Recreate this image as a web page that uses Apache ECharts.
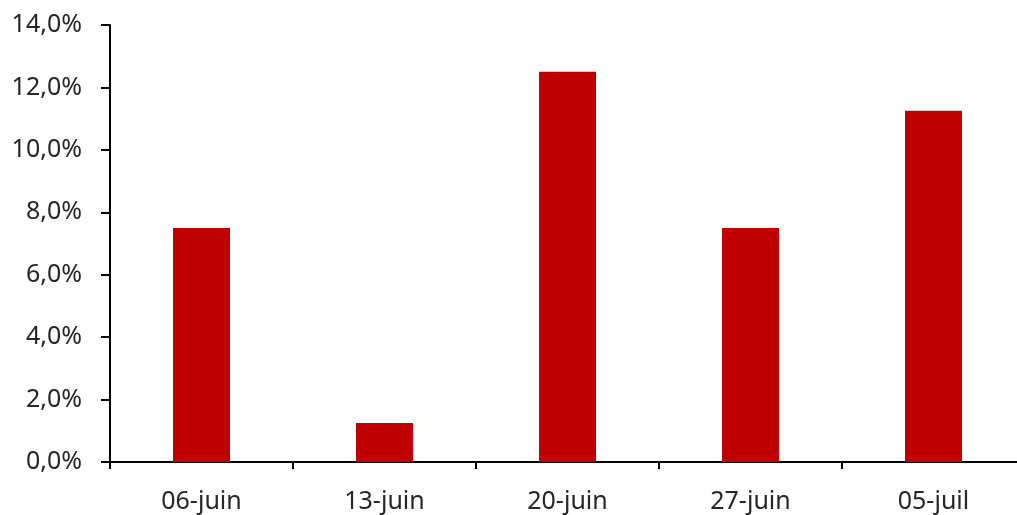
<!DOCTYPE html>
<html>
<head>
<meta charset="utf-8">
<script src="https://cdn.jsdelivr.net/npm/echarts@6/dist/echarts.min.js"></script>
<style>
  html, body { margin: 0; padding: 0; background: #fff; }
  #chart { width: 1017px; height: 515px; }
</style>
</head>
<body>
<div id="chart"></div>
<script>
var categories = ['06-juin', '13-juin', '20-juin', '27-juin', '05-juil'];
var values = [7.5, 1.25, 12.5, 7.5, 11.25];
var yTicks = { min: 0, max: 14, interval: 2 };

var chart = echarts.init(document.getElementById('chart'));

chart.setOption({
  animation: false,
  textStyle: { fontFamily: 'Noto Sans' },
  // right edge of the plot runs past the window, as in the cropped original
  grid: { left: 110, right: -8, top: 25, bottom: 53, containLabel: false, outerBoundsMode: 'none' },
  xAxis: {
    type: 'category',
    data: categories,
    boundaryGap: true,
    axisLine: { lineStyle: { color: '#000', width: 2 } },
    axisTick: { show: true, length: 7, lineStyle: { color: '#000', width: 2 } },
    axisLabel: { color: '#262626', fontSize: 25, margin: 27, fontFamily: 'Noto Sans' }
  },
  yAxis: {
    type: 'value',
    min: yTicks.min,
    max: yTicks.max,
    interval: yTicks.interval,
    splitLine: { show: false },
    axisLine: { show: true, lineStyle: { color: '#000', width: 2 } },
    axisTick: { show: true, length: 9, lineStyle: { color: '#000', width: 2 } },
    axisLabel: {
      color: '#262626',
      fontSize: 25,
      margin: 28,
      fontFamily: 'Noto Sans',
      formatter: function (v) { return v.toFixed(1).replace('.', ',') + '%'; }
    }
  },
  series: [{
    type: 'bar',
    data: values,
    barWidth: 57,
    itemStyle: { color: '#C00000' }
  }]
});
</script>
</body>
</html>
